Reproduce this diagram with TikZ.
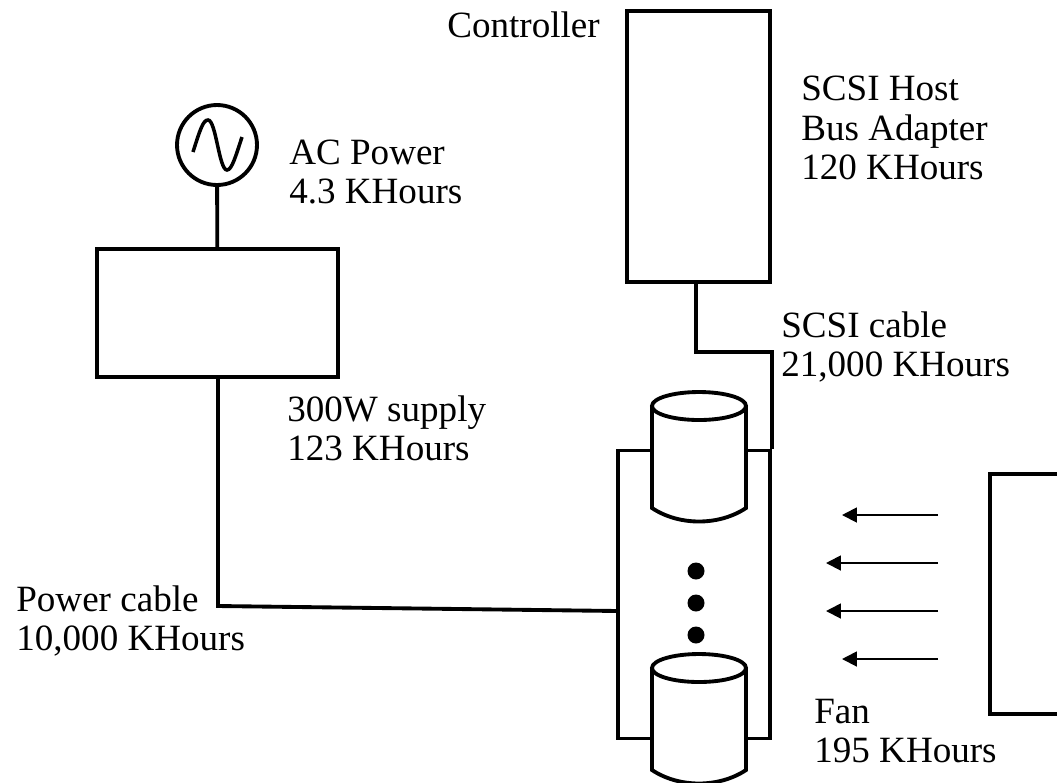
\documentclass[tikz,border=0pt]{standalone}
\usepackage{fontspec}
\setmainfont{Liberation Serif}
\usetikzlibrary{arrows.meta,positioning,calc}
\tikzset{
  wire/.style={line width=2.2pt, draw=black},
  blk/.style={wire, fill=white, inner sep=0pt},
  lab/.style={font=\fontsize{21.1}{22.4}\selectfont, align=left, anchor=west, inner sep=0pt},
  flow/.style={-{Triangle[length=8.5pt,width=8.5pt]}, line width=1.1pt, draw=black},
  spot/.style={circle, fill=black, inner sep=0pt, minimum size=0.34cm},
  disk/.pic={
    \draw[wire, fill=white] (-47,0) -- (-47,102) .. controls (-20,120) and (20,120) .. (47,102) -- (47,0);
    \draw[wire, fill=white] (0,0) ellipse [x radius=0.94cm, y radius=0.28cm];
  },
}
\begin{document}
\begin{tikzpicture}[x=0.02cm, y=-0.02cm]
    \useasboundingbox (0,0) rectangle (1057,782);
    \node[blk, circle, minimum size=1.6cm] (src) at (217,145) {};
    \node[blk, minimum width=4.82cm, minimum height=2.56cm] (psu) at (217.5,313) {};
    \node[blk, minimum width=2.86cm, minimum height=5.42cm] (ctrl) at (698.5,146.5) {};
    \node[blk, minimum width=3.04cm, minimum height=5.76cm] (bay) at (694,594.5) {};
    \draw[wire, line width=2pt] (193,152) .. controls (200,130) and (203,120) .. (208,120)
      .. controls (216,120) and (219,170) .. (227,170) .. controls (232,170) and (236,155) .. (242,137);
    \draw[wire] (src) -- (psu);
    \coordinate (bend) at (218,606);
    \coordinate (bayin) at (618,611);
    \draw[wire] (psu.south -| bend) -- (bend) -- (bayin);
    \draw[wire] (ctrl.south -| 696,0) -- (696,352) -| (bay.north east);
    \pic at (699,406) {disk};
    \pic at (699,668) {disk};
    \node[spot] (d1) at (696,571) {};
    \node[spot] (d2) at (696,603) {};
    \node[spot] (d3) at (696,635) {};
    % fan runs off the right edge of the page
    \draw[wire] (1057,474) -- (990,474) -- (990,714) -- (1057,714);
    \foreach \i/\yy/\xx in {1/515/842, 2/563/826, 3/611/826, 4/659/842} {
      \coordinate (tail\i) at (938,\yy);
      \coordinate (tip\i) at (\xx,\yy);
      \draw[flow] (tail\i) -- (tip\i);
    }
    \node[lab] (ctrllab) at (447,25) {Controller};
    \node[lab] (hbalab) at (801,128) {SCSI Host\\Bus Adapter\\120 KHours};
    \node[lab] (aclab) at (289,172) {AC Power\\4.3 KHours};
    \node[lab] (psulab) at (287,428) {300W supply\\123 KHours};
    \node[lab] (scsilab) at (781,347) {SCSI cable\\21,000 KHours};
    \node[lab] (cablelab) at (16,621) {Power cable\\10,000 KHours};
    \node[lab] (fanlab) at (814,731) {Fan\\195 KHours};
\end{tikzpicture}
\end{document}
